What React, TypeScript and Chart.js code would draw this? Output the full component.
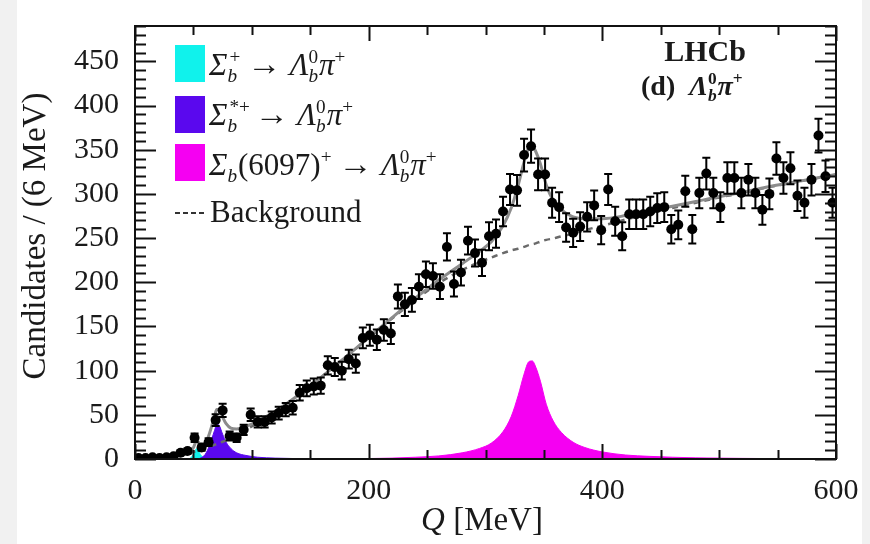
import React, { useEffect, useRef } from 'react';
import { Chart, registerables } from 'chart.js';

Chart.register(...registerables);

// ---------- data ----------
const binCenters = [
  3, 9, 15, 21, 27, 33, 39, 45, 51, 57,
  63, 69, 75, 81, 87, 93, 99, 105, 111, 117,
  123, 129, 135, 141, 147, 153, 159, 165, 171, 177,
  183, 189, 195, 201, 207, 213, 219, 225, 231, 237,
  243, 249, 255, 261, 267, 273, 279, 285, 291, 297,
  303, 309, 315, 321, 327, 333, 339, 345, 351, 357,
  363, 369, 375, 381, 387, 393, 399, 405, 411, 417,
  423, 429, 435, 441, 447, 453, 459, 465, 471, 477,
  483, 489, 495, 501, 507, 513, 519, 525, 531, 537,
  543, 549, 555, 561, 567, 573, 579, 585, 591, 597,
];
const counts = [
  1, 1, 2, 1, 2, 3, 7, 9, 24, 13,
  19, 44, 55, 26, 24, 33, 50, 42, 42, 47,
  52, 56, 58, 75, 80, 82, 83, 106, 104, 100,
  113, 108, 137, 140, 135, 146, 142, 184, 175, 180,
  195, 209, 207, 195, 240, 198, 211, 247, 233, 222,
  252, 255, 280, 305, 304, 344, 354, 322, 322, 290,
  285, 262, 256, 263, 274, 287, 259, 305, 269, 252,
  277, 277, 277, 280, 284, 285, 260, 265, 303, 260,
  301, 323, 301, 285, 318, 318, 301, 316, 301, 282,
  300, 340, 318, 329, 298, 290, 316, 366, 320, 290,
];

const fitQ = [
  0, 10, 20, 30, 40, 46, 50, 53, 56, 60,
  64, 68, 70, 72, 75, 78, 82, 87, 95, 105,
  120, 140, 160, 180, 200, 220, 240, 260, 280, 295,
  305, 315, 322, 328, 333, 337, 340, 343, 347, 352,
  358, 365, 375, 385, 400, 420, 440, 460, 480, 500,
  520, 540, 560, 580, 600,
];
const bgFit = [
  0, 0.5, 1.5, 3, 5, 6.5, 8, 9, 10.5, 12,
  14, 16, 17, 18, 19.5, 21, 23, 27, 33, 41,
  53, 72, 93, 115, 137, 159, 180, 199, 214, 223,
  228, 233, 236, 238, 240, 242, 243, 244, 246, 248,
  249.5, 252, 255, 259, 264, 271, 278, 284, 290, 296,
  301, 307, 312, 317, 322,
];
const sigCyan = [
  0, 0, 0, 0, 0, 0, 5, 12, 5, 0.5,
  0, 0, 0, 0, 0, 0, 0, 0, 0, 0,
  0, 0, 0, 0, 0, 0, 0, 0, 0, 0,
  0, 0, 0, 0, 0, 0, 0, 0, 0, 0,
  0, 0, 0, 0, 0, 0, 0, 0, 0, 0,
  0, 0, 0, 0, 0,
];
const sigPurple = [
  0, 0, 0, 0, 0, 0, 0, 0, 1, 5,
  16, 32, 39, 38, 28, 19, 12, 7, 4, 2,
  1, 0.4, 0.2, 0, 0, 0, 0, 0, 0, 0,
  0, 0, 0, 0, 0, 0, 0, 0, 0, 0,
  0, 0, 0, 0, 0, 0, 0, 0, 0, 0,
  0, 0, 0, 0, 0,
];
const sigMagenta = [
  0, 0, 0, 0, 0, 0, 0, 0, 0, 0,
  0, 0, 0, 0, 0, 0, 0, 0, 0, 0,
  0, 0, 0, 0, 0.5, 1, 2, 3.5, 7, 12,
  18, 31, 48, 72, 96, 110, 111, 104, 88, 62,
  43, 30, 19, 13, 8, 4.5, 3, 2, 1.3, 1,
  0.7, 0.5, 0.3, 0.2, 0.1,
];

const xTickLabels = [0, 200, 400, 600];
const yTickLabels = [0, 50, 100, 150, 200, 250, 300, 350, 400, 450];
const xMinorStep = 50;
const yMinorStep = 10;
const X_MIN = 0;
const X_MAX = 600;
const Y_MIN = 0;
const Y_MAX = 490;

const FONT = '"Liberation Serif", "Times New Roman", serif';
const TEXT = '#1a1a1a';
const CYAN = '#10F2EC';
const PURPLE = '#5A08EE';
const MAGENTA = '#F500F2';

function drawRich(ctx: any, x: number, y: number, size: number, parts: any[], bold = false) {
  let cx = x;
  ctx.textBaseline = 'alphabetic';
  ctx.textAlign = 'left';
  const f = (s: number, it: boolean) => `${it ? 'italic ' : ''}${bold ? 'bold ' : ''}${s}px ${FONT}`;
  for (const p of parts) {
    if (p.t !== undefined) {
      const s = p.size ?? size;
      ctx.font = f(s, !!p.i);
      ctx.fillText(p.t, cx, y);
      cx += ctx.measureText(p.t).width + (p.after ?? 0);
    } else {
      const ss = size * 0.62;
      let w = 0;
      if (p.sub) {
        ctx.font = f(ss, !!p.subI);
        ctx.fillText(p.sub, cx, y + size * 0.22);
        w = Math.max(w, ctx.measureText(p.sub).width);
      }
      if (p.sup) {
        ctx.font = f(ss, false);
        ctx.fillText(p.sup, cx + (p.supDx ?? 0), y - size * 0.4);
        w = Math.max(w, ctx.measureText(p.sup).width + (p.supDx ?? 0));
      }
      cx += w + (p.after ?? 1);
    }
  }
  return cx;
}

const pagePlugin = {
  id: 'page',
  beforeDraw(chart: any) {
    const { ctx, width, height } = chart;
    ctx.save();
    ctx.fillStyle = '#ffffff';
    ctx.fillRect(0, 0, width, height);
    ctx.fillStyle = '#f1f1f1';
    ctx.fillRect(0, 0, 17, height);
    ctx.fillRect(862, 0, width - 862, height);
    ctx.restore();
  },
};

const errorBarPlugin = {
  id: 'errorBars',
  beforeDatasetDraw(chart: any, args: any) {
    if (args.index !== 0) return;
    const { ctx, chartArea } = chart;
    const xs = chart.scales.x;
    const ys = chart.scales.y;
    ctx.save();
    ctx.beginPath();
    ctx.rect(chartArea.left, chartArea.top, chartArea.right - chartArea.left, chartArea.bottom - chartArea.top);
    ctx.clip();
    ctx.strokeStyle = '#000';
    ctx.lineWidth = 2;
    binCenters.forEach((q, i) => {
      const v = counts[i];
      const e = Math.sqrt(v);
      const px = xs.getPixelForValue(q);
      const yl = ys.getPixelForValue(Math.max(0, v - e));
      const yh = ys.getPixelForValue(v + e);
      ctx.beginPath();
      ctx.moveTo(px, yl);
      ctx.lineTo(px, yh);
      ctx.moveTo(px - 4, yl);
      ctx.lineTo(px + 4, yl);
      ctx.moveTo(px - 4, yh);
      ctx.lineTo(px + 4, yh);
      ctx.stroke();
    });
    ctx.restore();
  },
};

const decorPlugin = {
  id: 'decor',
  afterDraw(chart: any) {
    const { ctx, chartArea } = chart;
    const { left, right, top, bottom } = chartArea;
    const xs = chart.scales.x;
    const ys = chart.scales.y;
    ctx.save();
    // frame
    ctx.strokeStyle = '#111';
    ctx.lineWidth = 2;
    ctx.strokeRect(left, top, right - left, bottom - top);
    // ticks (inward)
    ctx.beginPath();
    for (let v = Y_MIN; v <= Y_MAX; v += yMinorStep) {
      const py = Math.round(ys.getPixelForValue(v)) + 0.5;
      const len = v % 50 === 0 ? 21 : 11;
      ctx.moveTo(left, py);
      ctx.lineTo(left + len, py);
      ctx.moveTo(right, py);
      ctx.lineTo(right - len, py);
    }
    for (let v = X_MIN; v <= X_MAX; v += xMinorStep) {
      const px = Math.round(xs.getPixelForValue(v)) + 0.5;
      const len = v % 200 === 0 ? 15 : 9;
      ctx.moveTo(px, bottom);
      ctx.lineTo(px, bottom - len);
      ctx.moveTo(px, top);
      ctx.lineTo(px, top + len);
    }
    ctx.lineWidth = 2;
    ctx.stroke();

    ctx.fillStyle = TEXT;
    // y title
    ctx.save();
    ctx.translate(45, 236);
    ctx.rotate(-Math.PI / 2);
    ctx.font = `33px ${FONT}`;
    ctx.textAlign = 'center';
    ctx.textBaseline = 'alphabetic';
    ctx.fillText('Candidates / (6 MeV)', 0, 0);
    ctx.restore();

    // x title
    ctx.font = `italic 33px ${FONT}`;
    const qW = ctx.measureText('Q').width;
    ctx.font = `33px ${FONT}`;
    const restW = ctx.measureText(' [MeV]').width;
    const startX = 482 - (qW + restW) / 2;
    drawRich(ctx, startX, 530, 33, [{ t: 'Q', i: true }, { t: ' [MeV]' }]);

    // legend
    const boxes = [
      { color: CYAN, top: 45 },
      { color: PURPLE, top: 96 },
      { color: MAGENTA, top: 144 },
    ];
    boxes.forEach((b) => {
      ctx.fillStyle = b.color;
      ctx.fillRect(175, b.top, 30, 37);
    });
    ctx.fillStyle = TEXT;
    const ls = 31;
    const arrow = { t: '→ ', size: 34 };
    drawRich(ctx, 209, 75, ls, [
      { t: 'Σ', i: true }, { sub: 'b', subI: true, sup: '+', supDx: 2, after: 7 },
      arrow, { t: 'Λ', i: true }, { sub: 'b', subI: true, sup: '0', after: 1 },
      { t: 'π', i: true }, { sup: '+' },
    ]);
    drawRich(ctx, 209, 125, ls, [
      { t: 'Σ', i: true }, { sub: 'b', subI: true, sup: '*+', supDx: 2, after: 5 },
      arrow, { t: 'Λ', i: true }, { sub: 'b', subI: true, sup: '0', after: 1 },
      { t: 'π', i: true }, { sup: '+' },
    ]);
    drawRich(ctx, 209, 175, ls, [
      { t: 'Σ', i: true }, { sub: 'b', subI: true, after: 1 }, { t: '(6097)' }, { sup: '+', after: 7 },
      arrow, { t: 'Λ', i: true }, { sub: 'b', subI: true, sup: '0', after: 1 },
      { t: 'π', i: true }, { sup: '+' },
    ]);
    ctx.strokeStyle = '#333';
    ctx.lineWidth = 2;
    ctx.setLineDash([5, 3]);
    ctx.beginPath();
    ctx.moveTo(175, 213);
    ctx.lineTo(207, 213);
    ctx.stroke();
    ctx.setLineDash([]);
    drawRich(ctx, 210, 222, ls, [{ t: 'Background' }]);

    // LHCb label
    ctx.font = `bold 30px ${FONT}`;
    ctx.textAlign = 'center';
    ctx.fillText('LHCb', 705, 61);
    drawRich(ctx, 641, 95, 28, [
      { t: '(d)  ' }, { t: 'Λ', i: true }, { sub: 'b', subI: true, sup: '0', after: 1 },
      { t: 'π', i: true }, { sup: '+' },
    ], true);
    ctx.restore();
  },
};

function pts(ys: number[]) {
  return fitQ.map((q, i) => ({ x: q, y: ys[i] }));
}

export default function App() {
  const ref = useRef<HTMLCanvasElement | null>(null);
  useEffect(() => {
    if (!ref.current) return;
    const total = fitQ.map((q, i) => ({ x: q, y: bgFit[i] + sigCyan[i] + sigPurple[i] + sigMagenta[i] }));
    const chart = new Chart(ref.current, {
      type: 'line',
      data: {
        datasets: [
          {
            label: 'Data',
            data: binCenters.map((q, i) => ({ x: q, y: counts[i] })),
            showLine: false,
            pointRadius: 5,
            pointBackgroundColor: '#000',
            pointBorderWidth: 0,
            borderColor: '#000',
          },
          {
            label: 'Total fit',
            data: total,
            borderColor: '#8c8c8c',
            borderWidth: 3,
            pointRadius: 0,
            cubicInterpolationMode: 'monotone',
            fill: false,
          },
          {
            label: 'Background',
            data: pts(bgFit),
            borderColor: '#6a6a6a',
            borderWidth: 2.5,
            borderDash: [6, 5],
            pointRadius: 0,
            cubicInterpolationMode: 'monotone',
            fill: false,
          },
          {
            label: 'Sigma_b(6097)+',
            data: pts(sigMagenta),
            borderColor: MAGENTA,
            borderWidth: 1,
            backgroundColor: MAGENTA,
            pointRadius: 0,
            cubicInterpolationMode: 'monotone',
            fill: 'origin',
          },
          {
            label: 'Sigma_b*+',
            data: pts(sigPurple),
            borderColor: PURPLE,
            borderWidth: 1,
            backgroundColor: PURPLE,
            pointRadius: 0,
            cubicInterpolationMode: 'monotone',
            fill: 'origin',
          },
          {
            label: 'Sigma_b+',
            data: pts(sigCyan),
            borderColor: CYAN,
            borderWidth: 1,
            backgroundColor: CYAN,
            pointRadius: 0,
            cubicInterpolationMode: 'monotone',
            fill: 'origin',
          },
        ],
      },
      options: {
        responsive: false,
        animation: false,
        devicePixelRatio: 1,
        layout: { padding: { left: 0, right: 34, top: 10, bottom: 0 } },
        plugins: { legend: { display: false }, tooltip: { enabled: false } },
        scales: {
          x: {
            type: 'linear',
            min: X_MIN,
            max: X_MAX,
            grid: { display: false },
            border: { display: false },
            afterBuildTicks: (s: any) => { s.ticks = xTickLabels.map((v) => ({ value: v })); },
            afterFit: (s: any) => { s.height = 85; },
            ticks: { font: { family: FONT, size: 30 }, color: TEXT, padding: 6, maxRotation: 0, autoSkip: false },
          },
          y: {
            type: 'linear',
            min: Y_MIN,
            max: Y_MAX,
            grid: { display: false },
            border: { display: false },
            afterBuildTicks: (s: any) => { s.ticks = yTickLabels.map((v) => ({ value: v })); },
            afterFit: (s: any) => { s.width = 135; },
            ticks: { font: { family: FONT, size: 30 }, color: TEXT, padding: 8, autoSkip: false },
          },
        },
      } as any,
      plugins: [pagePlugin, errorBarPlugin, decorPlugin],
    } as any);
    return () => chart.destroy();
  }, []);
  return (
    <div style={{ position: 'fixed', left: 0, top: 0, width: 870, height: 544, background: '#fff' }}>
      <canvas ref={ref} width={870} height={544} style={{ display: 'block', width: 870, height: 544 }} />
    </div>
  );
}
